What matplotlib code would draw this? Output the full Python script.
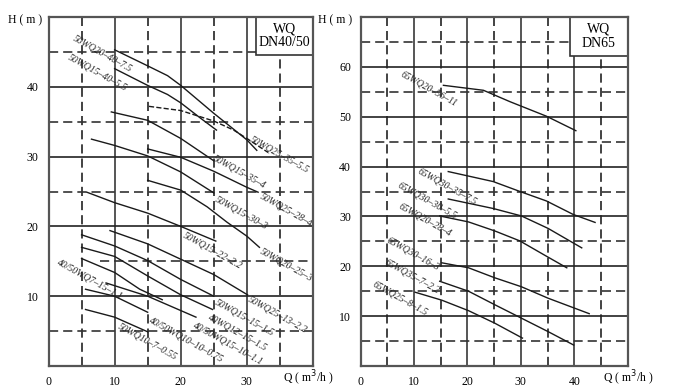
#!/usr/bin/env python3
"""WQ submersible pump performance curves (DN40/50 and DN65)."""

import matplotlib
matplotlib.use('Agg')
import matplotlib.pyplot as plt
from matplotlib.patches import Rectangle

plt.rcParams['font.family'] = ['Liberation Serif', 'DejaVu Serif']

# ---- DN40/50 curves: flow Q (m3/h) and head H (m) ----
q_50wq20_40 = [10, 15, 18, 20, 25, 30, 31.5]
h_50wq20_40 = [45.3, 43.0, 41.6, 40.2, 36.2, 32.4, 30.9]
q_50wq15_40 = [10, 15, 18, 20, 23, 25.4]
h_50wq15_40 = [42.6, 40.2, 38.9, 37.7, 35.5, 33.8]
q_50wq25_35 = [15.2, 20, 25, 28, 30, 33.2]
h_50wq25_35 = [37.2, 36.6, 35.1, 33.8, 32.6, 30.6]
q_50wq15_35 = [9.5, 15, 20, 25]
h_50wq15_35 = [36.4, 35.2, 32.6, 29.4]
q_50wq25_28 = [15, 20, 25, 30, 31.7]
h_50wq25_28 = [31.1, 29.9, 27.9, 25.6, 24.9]
q_50wq15_30 = [6.5, 10, 15, 20, 25]
h_50wq15_30 = [32.5, 31.6, 30.1, 27.8, 24.8]
q_50wq20_25 = [15, 20, 24, 27, 30, 31.9]
h_50wq20_25 = [26.6, 25.2, 22.8, 20.6, 18.6, 17.0]
q_50wq15_22 = [5.8, 10, 15, 20, 25.3]
h_50wq15_22 = [24.9, 23.4, 21.9, 20.0, 17.9]
q_50wq15_15 = [5, 10, 15, 20, 25]
h_50wq15_15 = [18.8, 17.2, 15.1, 12.4, 10.0]
q_50wq25_13 = [9.3, 15, 20, 25, 30.1]
h_50wq25_13 = [19.4, 17.5, 15.3, 13.1, 10.2]
q_40wq12_15 = [5, 10, 15, 20, 24.8]
h_40wq12_15 = [17.0, 15.7, 12.9, 10.2, 8.1]
q_40wq7_15 = [5, 10, 13.8, 17.2]
h_40wq7_15 = [15.4, 13.4, 11.0, 9.5]
q_40wq15_10 = [8.7, 15, 22.3]
h_40wq15_10 = [11.9, 10.0, 7.0]
q_40wq10_10 = [5.6, 10, 15]
h_40wq10_10 = [11.0, 10.0, 7.7]
q_50wq10_7 = [5.6, 10, 15]
h_50wq10_7 = [8.1, 7.0, 4.9]

# ---- DN65 curves ----
q_65wq20_56 = [15.5, 23, 28, 34.8, 40.3]
h_65wq20_56 = [56.3, 55.3, 53.0, 50.1, 47.2]
q_65wq30_35 = [16.4, 24.8, 30.1, 34.8, 39.8, 43.9]
h_65wq30_35 = [39.0, 37.0, 34.9, 33.1, 30.4, 28.8]
q_65wq30_30 = [16.4, 24.8, 30.1, 35.1, 41.4]
h_65wq30_30 = [33.5, 31.6, 30.1, 27.6, 23.7]
q_65wq20_28 = [14.8, 20.2, 25.1, 29.8, 34.5, 38.6]
h_65wq20_28 = [30.1, 28.9, 27.1, 25.1, 22.2, 19.7]
q_65wq30_16 = [15.2, 20.2, 25.1, 30.1, 35.1, 42.8]
h_65wq30_16 = [20.7, 19.7, 17.7, 15.9, 13.6, 10.5]
q_65wq35_7 = [14.8, 20.2, 25.1, 30.1, 35.1, 39.9]
h_65wq35_7 = [17.0, 15.0, 12.3, 9.6, 6.9, 4.2]
q_65wq25_8 = [10.2, 15.2, 20.2, 25.1, 30.3]
h_65wq25_8 = [14.8, 13.2, 11.1, 8.6, 5.6]

left_names = ['50WQ20–40–7.5', '50WQ15–40–5.5', '50WQ25–35–5.5', '50WQ15–35–4',
              '50WQ25–28–4', '50WQ15–30–3', '50WQ20–25–3', '50WQ15–22–2.2',
              '50WQ15–15–1.5', '50WQ25–13–2.2', '40WQ12–15–1.5', '40/50WQ7–15–1.1',
              '40/50WQ15–10–1.1', '40/50WQ10–10–0.75', '50WQ10–7–0.55']
left_curves = [(q_50wq20_40, h_50wq20_40), (q_50wq15_40, h_50wq15_40),
               (q_50wq25_35, h_50wq25_35), (q_50wq15_35, h_50wq15_35),
               (q_50wq25_28, h_50wq25_28), (q_50wq15_30, h_50wq15_30),
               (q_50wq20_25, h_50wq20_25), (q_50wq15_22, h_50wq15_22),
               (q_50wq15_15, h_50wq15_15), (q_50wq25_13, h_50wq25_13),
               (q_40wq12_15, h_40wq12_15), (q_40wq7_15, h_40wq7_15),
               (q_40wq15_10, h_40wq15_10), (q_40wq10_10, h_40wq10_10),
               (q_50wq10_7, h_50wq10_7)]
# where each label text begins (Q, H)
left_label_at = [(3.7, 46.8), (2.9, 44.0), (30.4, 32.3), (24.8, 29.6),
                 (31.9, 24.1), (25.1, 23.7), (31.9, 16.2), (20.3, 18.5),
                 (25.1, 8.9), (30.1, 9.4), (24.1, 6.8), (1.3, 14.7),
                 (21.8, 5.6), (15.2, 6.3), (10.5, 5.5)]

right_names = ['65WQ20–56–11', '65WQ30–35–7.5', '65WQ30–30–5.5', '65WQ20–28–4',
               '65WQ30–16–3', '65WQ35–7–2.2', '65WQ25–8–1.5']
right_curves = [(q_65wq20_56, h_65wq20_56), (q_65wq30_35, h_65wq30_35),
                (q_65wq30_30, h_65wq30_30), (q_65wq20_28, h_65wq20_28),
                (q_65wq30_16, h_65wq30_16), (q_65wq35_7, h_65wq35_7),
                (q_65wq25_8, h_65wq25_8)]
right_label_at = [(7.4, 58.3), (10.7, 38.7), (6.8, 35.9), (7.0, 31.7),
                  (4.9, 25.0), (4.4, 20.6), (2.1, 16.1)]

LINE = '#1a1a1a'
DASH = (5.5, 3)


def draw_grid(ax, qmax, hmax, hgaps=None):
    # hgaps: {H: Q where the dashed line starts}
    hgaps = hgaps or {}
    for q in range(10, qmax, 10):
        ax.axvline(q, color='#555555', lw=1.4, zorder=1)
    for q in range(5, qmax, 10):
        ax.axvline(q, color='#222222', lw=1.2, dashes=DASH, zorder=1)
    for h in range(10, hmax, 10):
        ax.axhline(h, color='#222222', lw=1.2, zorder=1)
    for h in range(5, hmax, 10):
        start = hgaps.get(h, 0) / qmax
        ax.axhline(h, xmin=start, color='#333333', lw=1.2, dashes=DASH, zorder=1)


def setup_axes(ax, qmax, hmax, xticks, yticks):
    ax.set_xlim(0, qmax)
    ax.set_ylim(0, hmax)
    ax.set_xticks(xticks)
    ax.set_yticks(yticks)
    ax.tick_params(length=0, labelsize=8.5, pad=7)
    for s in ax.spines.values():
        s.set_color('#555555')
        s.set_linewidth(1.6)
        s.set_zorder(5)


def draw_panel(ax, curves, names, label_at, dashed=()):
    for (q, h), name, (lq, lh) in zip(curves, names, label_at):
        ls = '--' if name in dashed else '-'
        ax.plot(q, h, color=LINE, lw=1.0, ls=ls, zorder=3)
        ax.text(lq, lh, name, fontsize=6.9, style='italic', rotation=-29,
                rotation_mode='anchor', ha='left', va='baseline', color='#222222',
                zorder=4)


fig = plt.figure(figsize=(6.96, 3.91), dpi=100)
ax1 = fig.add_axes([0.0697, 0.0639, 0.380, 0.8926])
ax2 = fig.add_axes([0.5182, 0.0639, 0.3836, 0.8926])

# left panel
setup_axes(ax1, 40, 50, [0, 10, 20, 30], [10, 20, 30, 40])
draw_grid(ax1, 40, 50, hgaps={15: 7.8})
draw_panel(ax1, left_curves, left_names, left_label_at, dashed=('50WQ25–35–5.5',))
ax1.add_patch(Rectangle((31.4, 44.5), 8.6, 5.5, facecolor='white', edgecolor='#333333',
                        lw=1.2, zorder=4))
ax1.text(35.7, 47.3, 'WQ\nDN40/50', ha='center', va='center', fontsize=10,
         linespacing=1.1, zorder=6)

# right panel
setup_axes(ax2, 50, 70, [0, 10, 20, 30, 40], [10, 20, 30, 40, 50, 60])
draw_grid(ax2, 50, 70)
draw_panel(ax2, right_curves, right_names, right_label_at)
ax2.add_patch(Rectangle((39.2, 62.2), 10.8, 7.8, facecolor='white', edgecolor='#333333',
                        lw=1.2, zorder=4))
ax2.text(44.6, 66.1, 'WQ\nDN65', ha='center', va='center', fontsize=10,
         linespacing=1.1, zorder=6)

# axis titles
fig.text(8 / 696, 1 - 20 / 391, 'H ( m )', fontsize=8.5, ha='left', va='center')
fig.text(318 / 696, 1 - 20 / 391, 'H ( m )', fontsize=8.5, ha='left', va='center')
fig.text(308 / 696, 1 - 378 / 391, 'Q ( m$^3$/h )', fontsize=8.5, ha='center', va='center')
fig.text(628 / 696, 1 - 378 / 391, 'Q ( m$^3$/h )', fontsize=8.5, ha='center', va='center')

fig.savefig('out.png', dpi=100, facecolor='white')
